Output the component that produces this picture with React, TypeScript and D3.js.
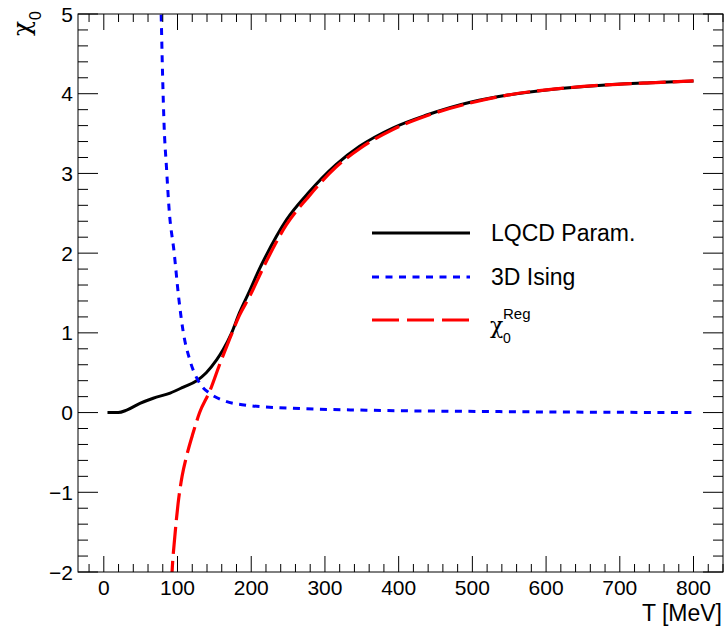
import React from "react";
import * as d3 from "d3";

// ---- data ----
const lqcdT = [5, 19.5, 31, 49, 67, 90, 108, 126, 139, 153, 162, 173, 184, 198, 211, 218, 248, 277, 315, 347, 392, 437, 500, 546, 613, 681, 749, 800];
const lqcdV = [0, 0, 0.03, 0.115, 0.18, 0.245, 0.32, 0.4, 0.5, 0.66, 0.79, 0.99, 1.25, 1.53, 1.8, 1.93, 2.42, 2.75, 3.11, 3.34, 3.57, 3.73, 3.9, 3.98, 4.06, 4.11, 4.14, 4.16];

const isingT = [76.3, 77.8, 79.7, 81.9, 85, 88.6, 95.4, 102, 107.6, 116.7, 130, 144, 160, 198, 266, 356, 537, 800];
const isingV = [5.5, 5.0, 4.25, 3.58, 3.08, 2.55, 2.01, 1.41, 1.02, 0.66, 0.37, 0.24, 0.16, 0.087, 0.05, 0.03, 0.012, 0.0];

const regT = [91.6, 92.5, 96.3, 100.8, 106.2, 112.2, 121, 130, 143.8, 157, 171, 184, 198, 218, 248, 277, 315, 347, 392, 437, 500, 546, 613, 681, 749, 800];
const regV = [-2.2, -2.02, -1.56, -1.14, -0.8, -0.55, -0.26, 0.0, 0.27, 0.6, 0.93, 1.22, 1.46, 1.85, 2.36, 2.7, 3.08, 3.31, 3.55, 3.72, 3.89, 3.98, 4.06, 4.11, 4.14, 4.16];

const xMajor = [0, 100, 200, 300, 400, 500, 600, 700, 800];
const yMajor = [-2, -1, 0, 1, 2, 3, 4, 5];
const yLabels = ["\u22122", "\u22121", "0", "1", "2", "3", "4", "5"];
const legendLabels = ["LQCD Param.", "3D Ising"];

const W = 725, H = 628;
const L = 78, R = 723, T = 14, B = 572;

export default function App() {
  const x = d3.scaleLinear().domain([-35, 840]).range([L, R]);
  const y = d3.scaleLinear().domain([-2, 5]).range([B, T]);

  const xMinor = d3.range(-20, 841, 20).filter((v) => v % 100 !== 0);
  const yMinor = d3.range(-2, 5.001, 0.2).map((v) => +v.toFixed(2)).filter((v) => Math.abs(v - Math.round(v)) > 1e-6);

  const mk = (ts: number[], vs: number[]) =>
    d3
      .line<number>()
      .x((_, i) => x(ts[i]))
      .y((v) => y(v))
      .curve(d3.curveMonotoneX)(vs) || "";

  const font = "Liberation Sans, Arial, Helvetica, sans-serif";
  const greek = "DejaVu Serif, Liberation Serif, serif";

  const legY = [233, 277, 320];
  const legX1 = 372, legX2 = 470, legTX = 491;

  return (
    <svg width={W} height={H} style={{ position: "absolute", left: 0, top: 0, background: "#fff" }} fontFamily={font}>
      <defs>
        <clipPath id="plotclip">
          <rect x={L} y={T} width={R - L} height={B - T} />
        </clipPath>
      </defs>
      <rect x={0} y={0} width={W} height={H} fill="#fff" />

      {/* curves */}
      <g clipPath="url(#plotclip)" fill="none">
        <path d={mk(lqcdT, lqcdV)} stroke="#000" strokeWidth={3} />
        <path d={mk(isingT, isingV)} stroke="#0000ff" strokeWidth={3} strokeDasharray="7,6.5" />
        <path d={mk(regT, regV)} stroke="#ff0000" strokeWidth={3.2} strokeDasharray="27,7" />
      </g>

      {/* frame */}
      <rect x={L} y={T} width={R - L} height={B - T} fill="none" stroke="#000" strokeWidth={1} />

      {/* ticks */}
      <g stroke="#000" strokeWidth={1}>
        {xMajor.map((v) => (
          <g key={"xM" + v}>
            <line x1={x(v)} x2={x(v)} y1={B} y2={B - 16} />
            <line x1={x(v)} x2={x(v)} y1={T} y2={T + 16} />
          </g>
        ))}
        {xMinor.map((v) => (
          <g key={"xm" + v}>
            <line x1={x(v)} x2={x(v)} y1={B} y2={B - 8} />
            <line x1={x(v)} x2={x(v)} y1={T} y2={T + 8} />
          </g>
        ))}
        {yMajor.map((v) => (
          <g key={"yM" + v}>
            <line x1={L} x2={L + 20} y1={y(v)} y2={y(v)} />
            <line x1={R} x2={R - 20} y1={y(v)} y2={y(v)} />
          </g>
        ))}
        {yMinor.map((v) => (
          <g key={"ym" + v}>
            <line x1={L} x2={L + 10} y1={y(v)} y2={y(v)} />
            <line x1={R} x2={R - 10} y1={y(v)} y2={y(v)} />
          </g>
        ))}
      </g>

      {/* tick labels */}
      <g fontSize={21} fill="#000">
        {xMajor.map((v) => (
          <text key={"xl" + v} x={x(v)} y={595} textAnchor="middle">
            {String(v)}
          </text>
        ))}
        {yMajor.map((v, i) => (
          <text key={"yl" + v} x={73} y={y(v) + 7.5} textAnchor="end">
            {yLabels[i]}
          </text>
        ))}
      </g>

      {/* axis titles */}
      <text x={722} y={621} textAnchor="end" fontSize={23}>
        T [MeV]
      </text>
      <text transform="translate(30,36) rotate(-90)" fontSize={25} fontFamily={greek}>
        χ
      </text>
      <text transform="translate(41,20) rotate(-90)" fontSize={16}>
        0
      </text>

      {/* legend */}
      <g fill="none">
        <line x1={legX1} x2={legX2} y1={legY[0]} y2={legY[0]} stroke="#000" strokeWidth={3} />
        <line x1={legX1} x2={legX2} y1={legY[1]} y2={legY[1]} stroke="#0000ff" strokeWidth={3} strokeDasharray="7,6.5" />
        <line x1={legX1} x2={legX2} y1={legY[2]} y2={legY[2]} stroke="#ff0000" strokeWidth={3.2} strokeDasharray="27,8" />
      </g>
      <g fontSize={23} fill="#000">
        <text x={legTX} y={legY[0] + 8}>{legendLabels[0]}</text>
        <text x={legTX} y={legY[1] + 8}>{legendLabels[1]}</text>
        <text x={legTX - 1} y={333} fontSize={22} fontFamily={greek}>χ</text>
        <text x={503} y={343} fontSize={14}>0</text>
        <text x={503} y={319} fontSize={15}>Reg</text>
      </g>
    </svg>
  );
}
